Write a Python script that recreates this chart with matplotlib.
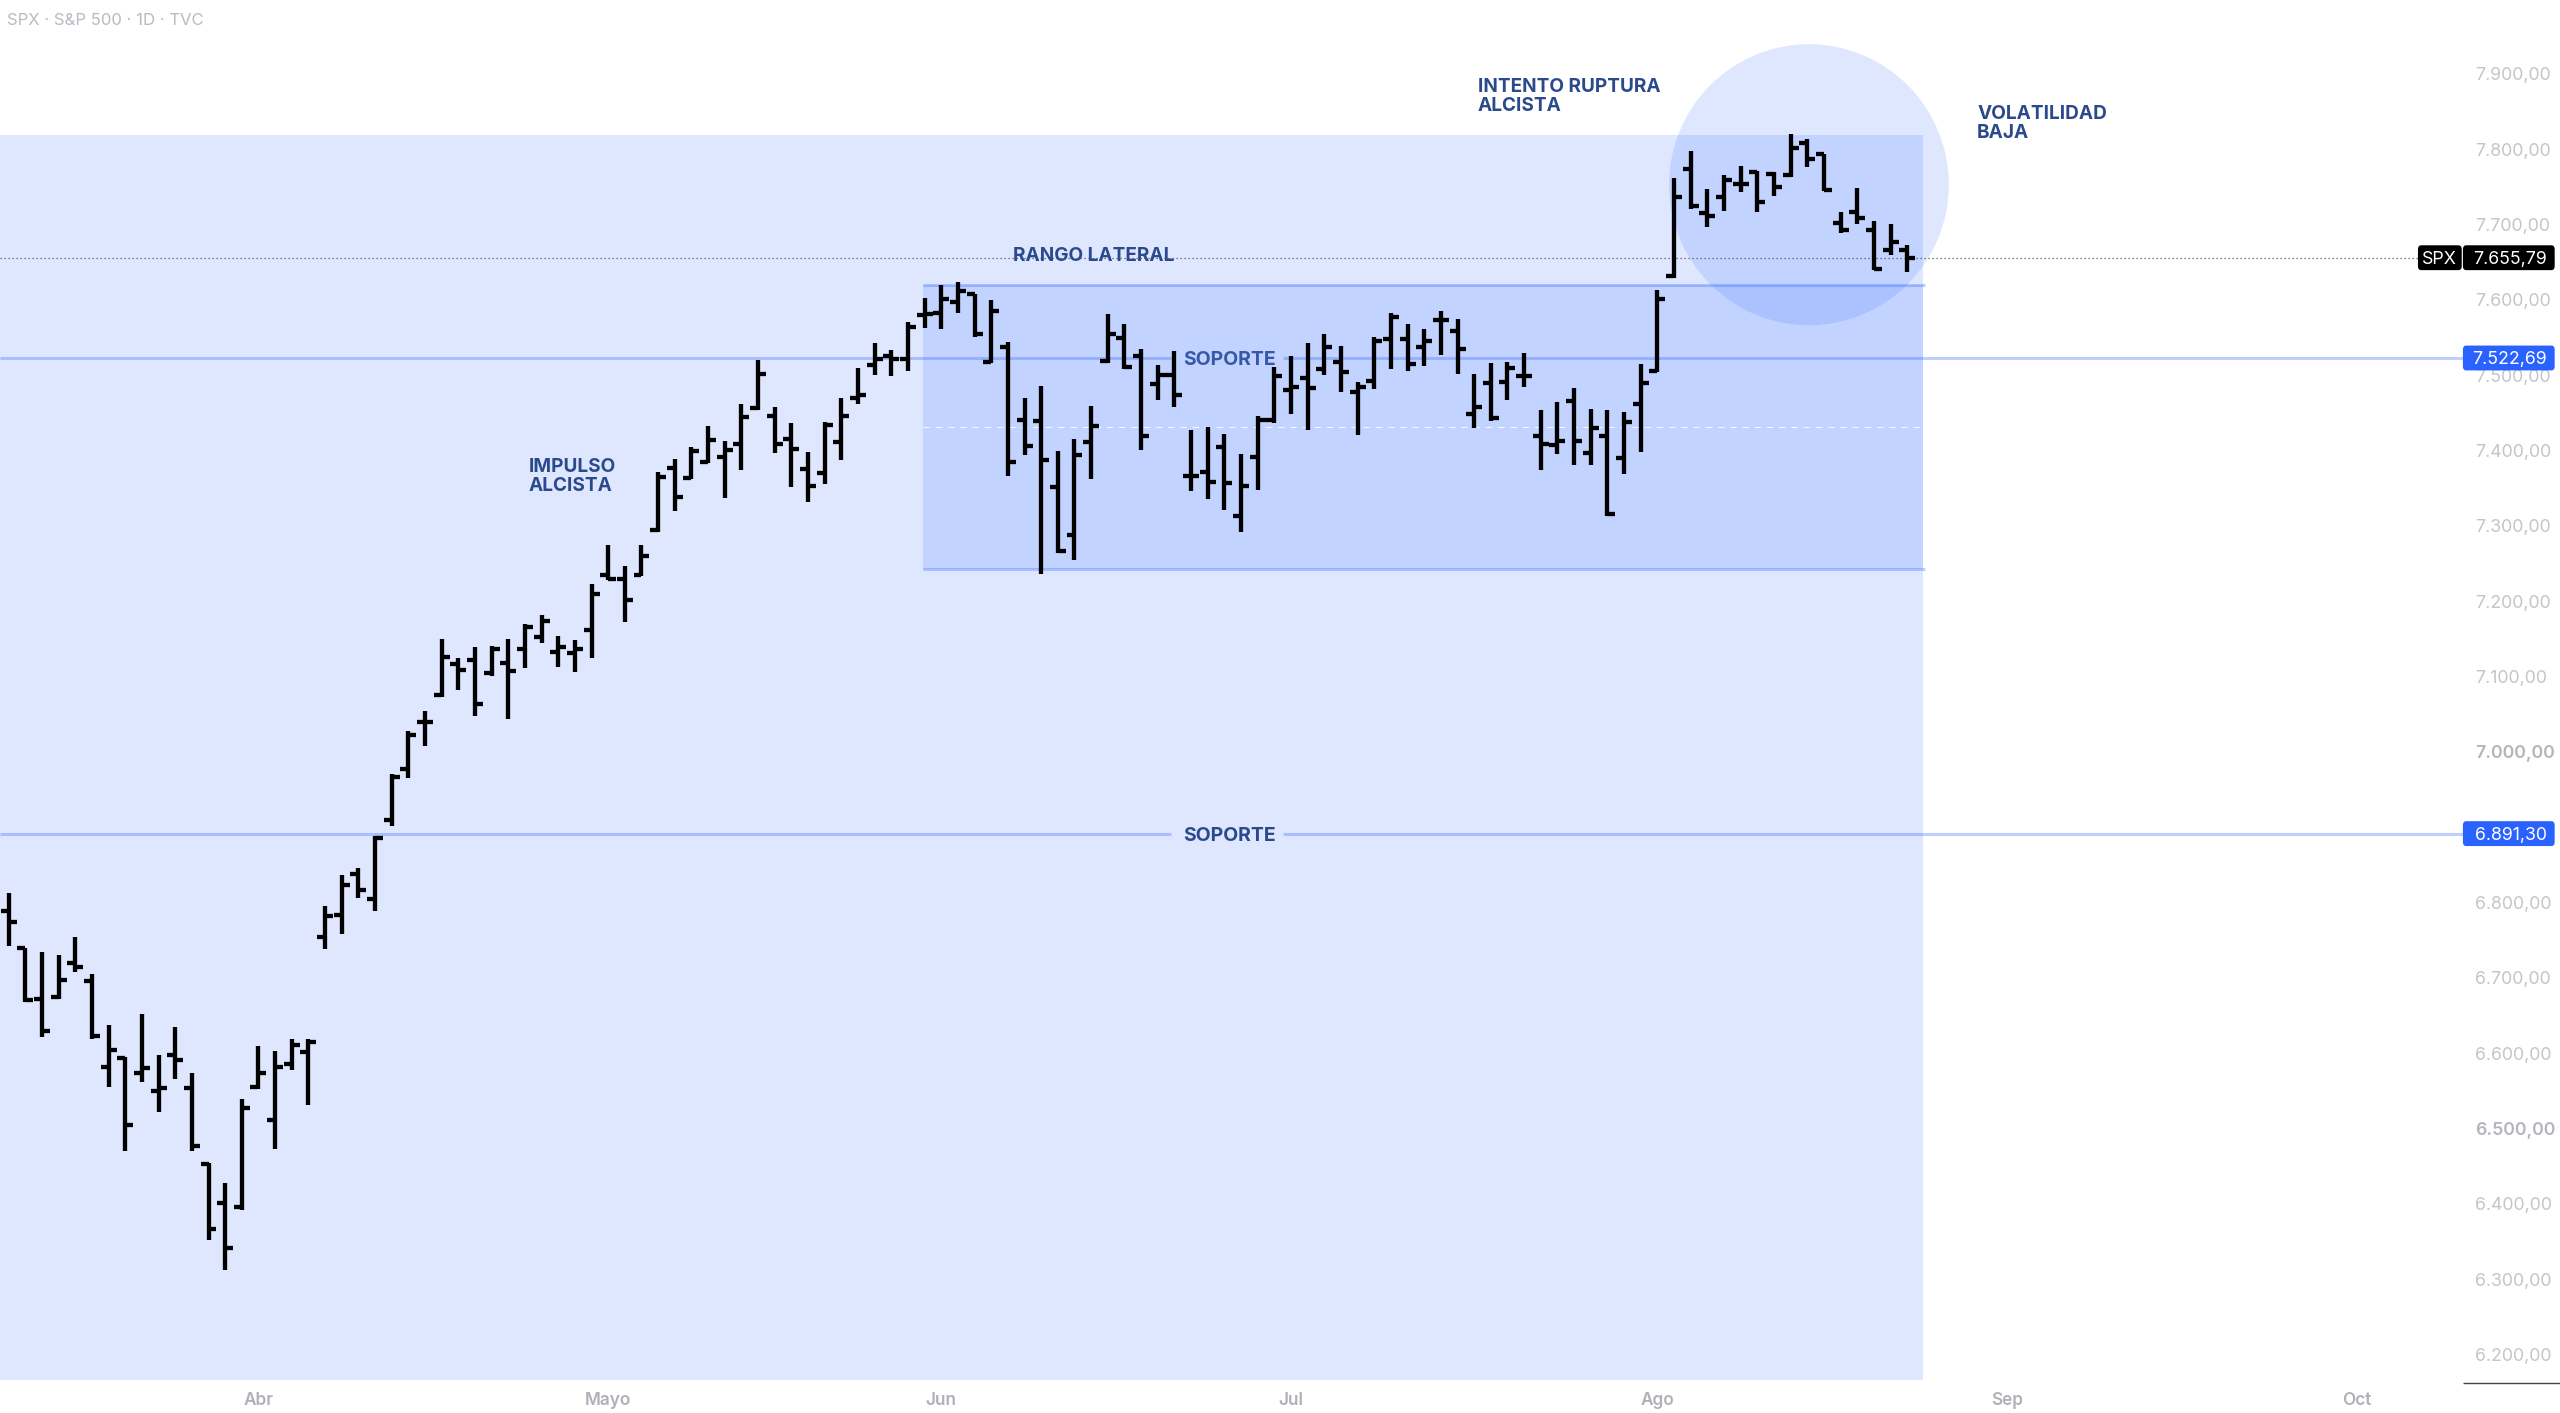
import matplotlib
matplotlib.use("Agg")
import matplotlib.pyplot as plt
from matplotlib.patches import Rectangle, Ellipse, FancyBboxPatch

plt.rcParams['font.family'] = ['Inter', 'DejaVu Sans']

# daily OHLC (one value per session)
highs = [6812, 6740, 6734, 6730, 6754, 6705, 6637, 6595, 6652, 6597, 6635, 6573, 6454, 6428, 6539, 6610, 6603, 6619, 6619,
         6795, 6836, 6846, 6888, 6971, 7027, 7054, 7149, 7125, 7139, 7140, 7150, 7170, 7181, 7154, 7148, 7223, 7275, 7247, 7275,
         7372, 7388, 7404, 7432, 7412, 7462, 7520, 7458, 7437, 7398, 7438, 7469, 7509, 7542, 7533, 7571, 7602, 7620, 7624, 7608,
         7600, 7544, 7470, 7485, 7399, 7415, 7459, 7581, 7568, 7535, 7514, 7532, 7427, 7431, 7422, 7395, 7446, 7511, 7525, 7543,
         7554, 7539, 7491, 7550, 7583, 7568, 7561, 7585, 7574, 7502, 7516, 7518, 7529, 7453, 7464, 7483, 7455, 7454, 7451, 7515,
         7613, 7761, 7797, 7747, 7766, 7777, 7771, 7770, 7820, 7813, 7794, 7717, 7748, 7704, 7700, 7673]
lows = [6742, 6668, 6621, 6672, 6708, 6619, 6555, 6470, 6562, 6522, 6565, 6470, 6352, 6312, 6392, 6552, 6472, 6577, 6531,
        6738, 6758, 6806, 6788, 6902, 6965, 7007, 7073, 7082, 7048, 7101, 7044, 7111, 7145, 7113, 7106, 7124, 7228, 7172, 7233,
        7292, 7320, 7362, 7383, 7337, 7374, 7453, 7396, 7352, 7332, 7355, 7387, 7462, 7500, 7499, 7506, 7563, 7561, 7582, 7550,
        7516, 7366, 7394, 7236, 7264, 7255, 7362, 7516, 7508, 7401, 7467, 7458, 7346, 7335, 7321, 7292, 7347, 7436, 7448, 7427,
        7500, 7477, 7420, 7481, 7508, 7505, 7512, 7526, 7502, 7430, 7439, 7467, 7484, 7374, 7395, 7381, 7381, 7313, 7369, 7398,
        7504, 7629, 7720, 7697, 7718, 7743, 7717, 7738, 7763, 7776, 7744, 7688, 7700, 7639, 7659, 7637]
opens = [6789, 6739, 6672, 6674, 6720, 6696, 6581, 6593, 6573, 6550, 6597, 6554, 6453, 6401, 6395, 6555, 6511, 6586, 6601,
         6754, 6783, 6838, 6805, 6909, 6977, 7040, 7075, 7116, 7122, 7104, 7118, 7136, 7152, 7133, 7131, 7162, 7235, 7229, 7235,
         7295, 7377, 7364, 7385, 7391, 7409, 7456, 7446, 7415, 7375, 7370, 7411, 7469, 7513, 7525, 7521, 7580, 7583, 7597, 7607,
         7518, 7537, 7440, 7439, 7351, 7288, 7411, 7519, 7549, 7525, 7488, 7500, 7366, 7371, 7405, 7313, 7391, 7441, 7480, 7496,
         7508, 7517, 7478, 7492, 7548, 7548, 7537, 7573, 7559, 7448, 7489, 7491, 7499, 7419, 7407, 7465, 7396, 7419, 7390, 7462,
         7506, 7631, 7773, 7715, 7736, 7754, 7770, 7767, 7765, 7808, 7793, 7702, 7717, 7692, 7666, 7666]
closes = [6774, 6671, 6629, 6697, 6714, 6622, 6604, 6505, 6580, 6554, 6591, 6476, 6367, 6341, 6527, 6574, 6581, 6611, 6615,
          6782, 6823, 6816, 6885, 6967, 7022, 7040, 7126, 7108, 7063, 7137, 7107, 7165, 7174, 7139, 7136, 7209, 7229, 7201, 7260,
          7365, 7338, 7399, 7414, 7401, 7444, 7502, 7409, 7402, 7353, 7434, 7446, 7474, 7521, 7521, 7564, 7581, 7601, 7611, 7554,
          7585, 7384, 7406, 7387, 7266, 7394, 7432, 7554, 7511, 7419, 7500, 7474, 7366, 7358, 7357, 7353, 7441, 7499, 7484, 7483,
          7537, 7504, 7484, 7545, 7577, 7515, 7545, 7573, 7534, 7458, 7443, 7510, 7499, 7409, 7412, 7413, 7430, 7315, 7438, 7489,
          7601, 7737, 7724, 7711, 7759, 7754, 7730, 7750, 7801, 7787, 7746, 7692, 7708, 7641, 7676, 7656]

month_pos = [15, 36, 56, 77, 99, 120, 141]
month_labels = ['Abr', 'Mayo', 'Jun', 'Jul', 'Ago', 'Sep', 'Oct']
price_ticks = list(range(6200, 8000, 100))
bold_ticks = [6500, 7000]

last_price = 7655.79
support_high = 7522.69
support_low = 6891.30
range_top = 7619.6
range_bottom = 7242.2
range_mid = 7430.5
zone_top = 7818.7
zone_bottom = 6165.9


def fmt_price(v):
    return f"{v:,.2f}".replace(',', ' ').replace('.', ',').replace(' ', '.')


BLUE = '#2962ff'
TEXT_BLUE = '#2a4a8c'
GREY = '#b8bbc2'

fig = plt.figure(figsize=(12.8, 7.065), dpi=200)
ax = fig.add_axes([0, 0, 1, 1])
ax.set_xlim(-0.52, 153.2)
ax.set_ylim(6122.2, 7997.9)
for s in ax.spines.values():
    s.set_visible(False)

x = list(range(len(highs)))
right_edge = 114.95
axis_edge = 147.37

# shaded zones
ax.add_patch(Rectangle((-0.52, zone_bottom), right_edge + 0.52, zone_top - zone_bottom,
                       fc=BLUE, alpha=0.15, lw=0, zorder=1))
ax.add_patch(Rectangle((54.92, range_bottom), right_edge - 54.92, range_top - range_bottom,
                       fc=BLUE, alpha=0.15, lw=0, zorder=1))
ax.add_patch(Ellipse((108.1, 7752.7), 16.8, 373, fc=BLUE, alpha=0.15, lw=0, zorder=1))

line_kw = dict(color=BLUE, alpha=0.3, lw=1.1, zorder=2)
ax.hlines([range_top, range_bottom], 54.92, right_edge + 0.1, **line_kw)
ax.hlines(range_mid, 54.92, right_edge, color='white', lw=0.4, alpha=0.8, linestyles=(0, (6, 5)), zorder=2)

# support lines, broken around their label
for level in (support_high, support_low):
    ax.hlines(level, -0.52, 69.8, **line_kw)
    ax.hlines(level, 76.5, axis_edge, **line_kw)

ax.hlines(last_price, -0.52, 144.67, color='#555555', lw=0.45, linestyles=(0, (1, 2.2)), zorder=2)

# OHLC bars
bar_kw = dict(color='black', lw=1.55, zorder=4)
ax.vlines(x, lows, highs, **bar_kw)
ax.hlines(opens, [i - 0.48 for i in x], x, **bar_kw)
ax.hlines(closes, x, [i + 0.48 for i in x], **bar_kw)

# annotations
note_kw = dict(color=TEXT_BLUE, fontsize=6.85, fontweight='bold', va='center', ha='left',
               linespacing=1.04, zorder=5)
ax.text(31.2, 7365, 'IMPULSO\nALCISTA', **note_kw)
ax.text(88.2, 7870, 'INTENTO RUPTURA\nALCISTA', **note_kw)
ax.text(118.2, 7834, 'VOLATILIDAD\nBAJA', **note_kw)
ax.text(60.3, 7658, 'RANGO LATERAL', **note_kw)
ax.text(73.3, support_high - 3, 'SOPORTE', color='#3558a8', fontsize=7.0, fontweight='bold',
        va='center', ha='center', zorder=5)
ax.text(73.3, support_low - 3, 'SOPORTE', color=TEXT_BLUE, fontsize=7.0, fontweight='bold',
        va='center', ha='center', zorder=5)

ax.text(0.0028, 0.9855, 'SPX · S&P 500 · 1D · TVC', transform=ax.transAxes, color=GREY,
        fontsize=6.0, va='center', ha='left')

# price axis
ax.yaxis.tick_right()
ax.set_yticks(price_ticks)
ax.set_yticklabels([fmt_price(v) for v in price_ticks], ha='left')
ax.tick_params(axis='y', length=0, pad=-30.6, labelsize=6.4, labelcolor='#c3c5ca')
for lab, v in zip(ax.get_yticklabels(), price_ticks):
    if v in bold_ticks:
        lab.set_fontweight('semibold')
        lab.set_color('#b2b5bb')

# time axis
ax.set_xticks(month_pos)
ax.set_xticklabels(month_labels, fontweight='semibold')
ax.tick_params(axis='x', length=0, pad=-7.6, labelsize=6.2, labelcolor='#aeb1b8')

ax.hlines(6162, axis_edge, 153.2, color='#444444', lw=0.5, zorder=2)


def price_tag(x0, x1, price, color, text, halign='right'):
    # rounded box on the price axis with its label
    h = 33
    box = FancyBboxPatch((x0, price - h / 2), x1 - x0, h, boxstyle='round,pad=0,rounding_size=0.2',
                         mutation_aspect=27, fc=color, ec='none', zorder=6)
    ax.add_patch(box)
    tx = x1 - 0.46 if halign == 'right' else (x0 + x1) / 2
    ax.text(tx, price - 2, text, color='white', fontsize=6.4, va='center', ha=halign, zorder=7)


price_tag(147.37, 152.88, support_high, BLUE, fmt_price(support_high))
price_tag(147.37, 152.88, support_low, BLUE, fmt_price(support_low))
price_tag(144.67, 147.3, last_price, 'black', 'SPX', halign='center')
price_tag(147.37, 152.88, last_price, 'black', fmt_price(last_price))

fig.savefig('out.png', dpi=200, facecolor='white')
plt.close()
